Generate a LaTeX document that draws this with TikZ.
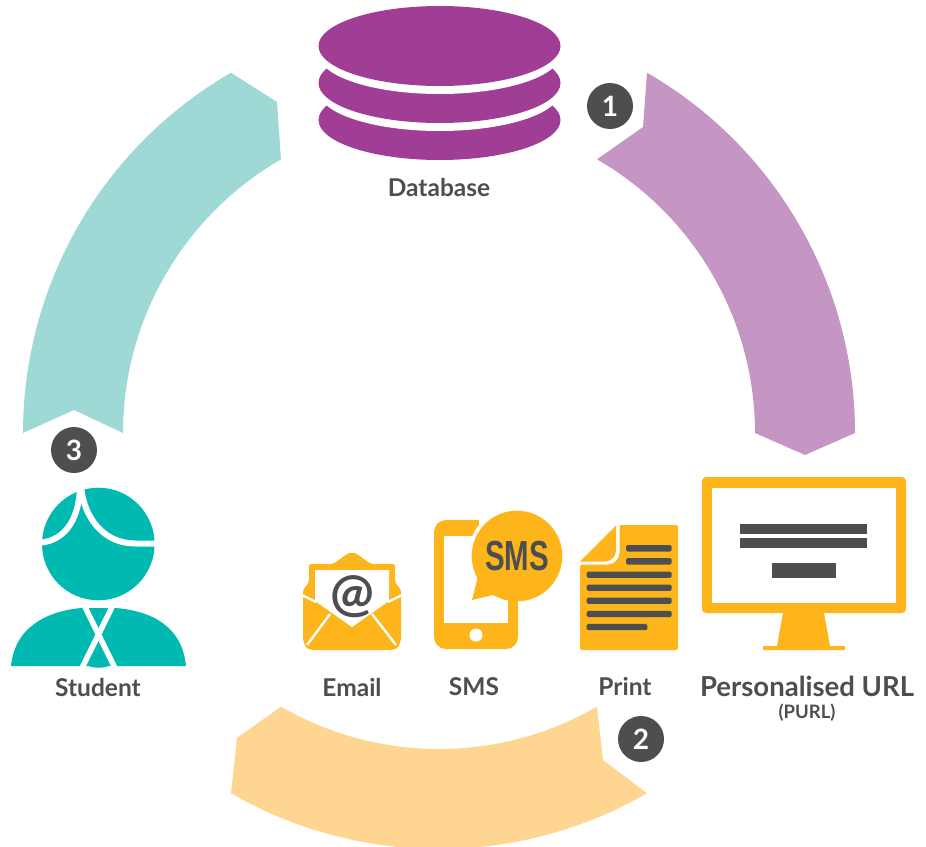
\documentclass[tikz,border=0pt]{standalone}
\usepackage{fontspec}
\usepackage{graphicx}
\usetikzlibrary{calc}
\setmainfont{Lato}
\newfontfamily\labelfont{Lato Bold}
\newfontfamily\condfont{Liberation Sans}
\definecolor{dbpurple}{HTML}{A03D95}
\definecolor{arcpurple}{HTML}{C596C3}
\definecolor{arcteal}{HTML}{9FD9D6}
\definecolor{studentteal}{HTML}{00B9B0}
\definecolor{arcyellow}{HTML}{FED691}
\definecolor{iconyellow}{HTML}{FDB51B}
\definecolor{darkgrey}{HTML}{4D4E50}
\tikzset{
  lab/.style={text=darkgrey,inner sep=0pt,font=\labelfont\fontsize{24.5}{24.5}\selectfont},
  numdot/.style={circle,fill=darkgrey,minimum size=46pt,inner sep=0pt,text=white,font=\labelfont\fontsize{28}{28}\selectfont},
  hairline/.style={draw=white,line width=6pt},
  thinwhite/.style={draw=white,line width=2.4pt},
  textbar/.style={fill=darkgrey,rounded corners=1.5pt},
  icon/.style={fill=iconyellow},
}
\begin{document}
\begin{tikzpicture}[x=1pt,y=1pt,yscale=-1]
\useasboundingbox (0,0) rectangle (926,846);
\clip (0,0) rectangle (926,846);
\coordinate (c) at (439,433);
% arcs
\fill[arcpurple] ($(c)+(-60:416)$) arc[start angle=-60,end angle=0,radius=416]
  -- (805,455) -- ($(c)+(0:316)$) arc[start angle=0,end angle=-60,radius=316]
  -- (643,127) -- cycle;
\fill[arcteal] ($(c)+(240:416)$) arc[start angle=240,end angle=180,radius=416]
  -- (74,410) -- ($(c)+(180:316)$) arc[start angle=180,end angle=240,radius=316]
  -- (277,102) -- cycle;
\fill[arcyellow] ($(c)+(120:416)$) arc[start angle=120,end angle=60,radius=416]
  -- (603,760) -- ($(c)+(60:316)$) arc[start angle=60,end angle=120,radius=316]
  -- (237,738) -- cycle;
% database
\fill[dbpurple] (439.5,120) ellipse[x radius=121,y radius=40];
\fill[white] (439.5,91) ellipse[x radius=121,y radius=40];
\fill[dbpurple] (439.5,83) ellipse[x radius=121,y radius=40];
\fill[white] (439.5,54) ellipse[x radius=121,y radius=40];
\fill[dbpurple] (439.5,46) ellipse[x radius=121,y radius=40];
\node[lab] (database) at (439,187) {Database};
% number dots
\node[numdot] (one) at (610,106) {1};
\node[numdot] (two) at (641,739) {2};
\node[numdot] (three) at (74,450) {3};
% student
\fill[studentteal] (98.3,544) circle[radius=56.3];
\draw[hairline] (81,484) .. controls (82,510) and (98,543) .. (135,543.5) -- (158,543.5);
\draw[hairline] (80,484) .. controls (80,515) and (68,541) .. (38,543);
\fill[studentteal] (11,666) .. controls (15,625) and (50,611) .. (81,608) -- (116,608) .. controls (150,611) and (182,625) .. (186,666) -- cycle;
\fill[studentteal] (85,664) .. controls (92,669) and (105,669) .. (112,664) -- cycle;
\draw[hairline,line width=5.5pt] (83,603) -- (115,668);
\draw[hairline,line width=5.5pt] (114,603) -- (82,668);
\node[lab] (student) at (98,687) {Student};
% email
\fill[icon,rounded corners=2pt] (333,564) -- (347,554) -- (352,552) -- (357,554) -- (371,564) -- (395,564) -- (395,582) -- (401,590) -- (401,640) -- (398,648) -- (392,650) -- (312,650) -- (306,648) -- (303,640) -- (303,590) -- (309,582) -- (309,564) -- cycle;
\fill[white] (315,570) -- (389,570) -- (389,601) -- (352,627) -- (315,601) -- cycle;
\draw[thinwhite] (302,595) -- (316,602);
\draw[thinwhite] (402,595) -- (388,602);
\draw[thinwhite] (330,614) -- (307,645);
\draw[thinwhite] (372,614) -- (396,645);
\node[text=darkgrey,inner sep=0pt,font=\labelfont\fontsize{52}{52}\selectfont] (at) at (352,597) {@};
\node[lab] (email) at (352,687) {Email};
% sms
\fill[icon,rounded corners=12pt] (434,520) rectangle (518,649);
\fill[white] (444,536) rectangle (508,623);
\fill[white] (476,635) circle[radius=6.5];
\fill[white] (517,556) circle[radius=49];
\fill[white] (479,519) rectangle (519,530);
\fill[icon] (508,596) rectangle (518,630);
\fill[icon] (517,556) circle[radius=45.3];
\fill[icon] (478,576) -- (472,600) -- (493,595) -- (505,600) -- (500,570) -- cycle;
\node[text=darkgrey,inner sep=0pt,font=\condfont\bfseries\fontsize{42}{42}\selectfont] (smsbubble) at (517,556) {\scalebox{0.7}[1]{SMS}};
\node[lab] (sms) at (474,687) {SMS};
% print
\fill[icon,rounded corners=2pt] (619.5,525) -- (678,525) -- (678,650) -- (580,650) -- (580,564.5) -- (606,564.5) .. controls (614,564.5) and (619.5,559) .. (619.5,551) -- cycle;
\fill[icon] (580,561.5) -- (616,525.5) -- (616,550) .. controls (616,557) and (611,561.5) .. (604,561.5) -- cycle;
\fill[textbar] (626,545.2) rectangle (671.7,551.5);
\fill[textbar] (626,558.2) rectangle (671.7,564.5);
\fill[textbar] (586.7,571.5) rectangle (671.7,577.8);
\fill[textbar] (586.7,584.5) rectangle (671.7,590.8);
\fill[textbar] (586.7,597.5) rectangle (671.7,603.8);
\fill[textbar] (586.7,610.8) rectangle (671.7,617.1);
\fill[textbar] (586.7,623.9) rectangle (647.3,630.2);
\node[lab] (print) at (625,687) {Print};
% monitor
\fill[icon,rounded corners=4pt] (702,477) rectangle (906,613);
\fill[white] (712,488) rectangle (896,603);
\fill[darkgrey] (740,524) rectangle (867,534);
\fill[darkgrey] (740,538) rectangle (867,548);
\fill[darkgrey] (772,563) rectangle (836,578);
\fill[icon] (783,613) -- (824,613) -- (830,646) -- (777,646) -- cycle;
\fill[icon,rounded corners=1pt] (763,646) rectangle (845,650);
\node[lab,font=\labelfont\fontsize{27.5}{27.5}\selectfont] (purl) at (807,686) {Personalised URL};
\node[lab,font=\labelfont\fontsize{18.5}{18.5}\selectfont] (purlshort) at (807,713) {(PURL)};
\end{tikzpicture}
\end{document}
